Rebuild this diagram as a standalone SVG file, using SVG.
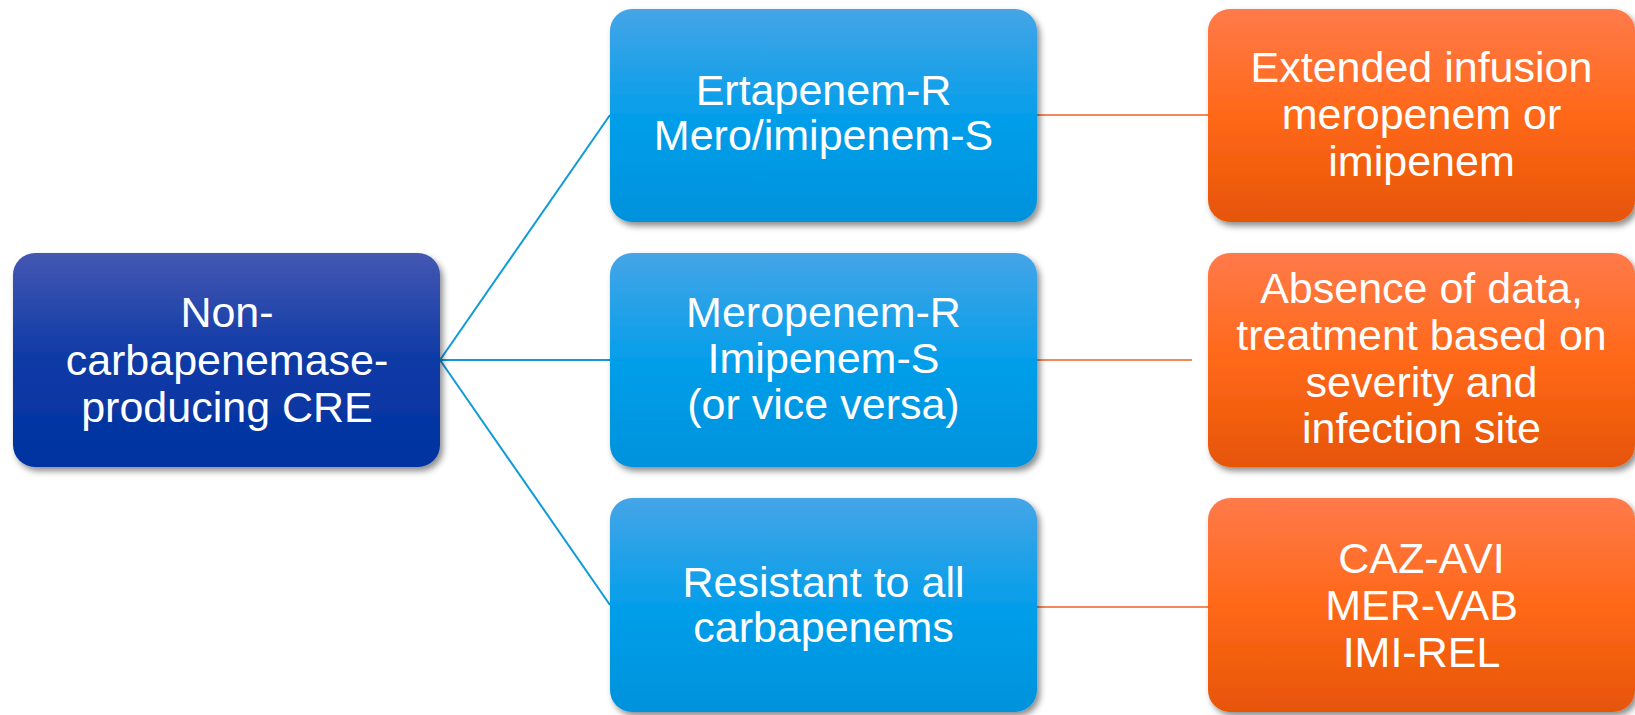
<svg xmlns="http://www.w3.org/2000/svg" width="1635" height="715" viewBox="0 0 1635 715">
<defs>
<linearGradient id="gDark" x1="0" y1="0" x2="0" y2="1">
<stop offset="0" stop-color="#4457B2"/>
<stop offset="0.5" stop-color="#0D3AA6"/>
<stop offset="1" stop-color="#0033A0"/>
</linearGradient>
<linearGradient id="gBlue" x1="0" y1="0" x2="0" y2="1">
<stop offset="0" stop-color="#45A5E7"/>
<stop offset="0.5" stop-color="#059EEA"/>
<stop offset="1" stop-color="#0092DC"/>
</linearGradient>
<linearGradient id="gOrange" x1="0" y1="0" x2="0" y2="1">
<stop offset="0" stop-color="#FF7A4A"/>
<stop offset="0.5" stop-color="#FF6818"/>
<stop offset="1" stop-color="#E65506"/>
</linearGradient>
<filter id="sh" x="-10%" y="-10%" width="125%" height="130%">
<feDropShadow dx="3" dy="4" stdDeviation="3" flood-color="#000" flood-opacity="0.45"/>
</filter>
</defs>
<style>
.box{filter:url(#sh);}
.t{font-family:"Liberation Sans",Arial,sans-serif;font-size:43px;fill:#FFFFFF;text-anchor:middle;}
.cb{stroke:#0F9AD8;stroke-width:2;fill:none;}
.co{stroke:#F4885C;stroke-width:2;fill:none;}
</style>
<g id="connectors">
<line class="cb" x1="440" y1="360" x2="610" y2="115"/>
<line class="cb" x1="440" y1="360" x2="610" y2="360"/>
<line class="cb" x1="440" y1="360" x2="610" y2="605"/>
<line class="co" x1="1037" y1="115" x2="1208" y2="115"/>
<line class="co" x1="1037" y1="360" x2="1192" y2="360"/>
<line class="co" x1="1037" y1="607" x2="1208" y2="607"/>
</g>
<g id="root">
<rect class="box" x="13" y="253" width="427" height="214" rx="22" fill="url(#gDark)"/>
<text class="t"><tspan x="227" y="327">Non-</tspan><tspan x="227" y="375">carbapenemase-</tspan><tspan x="227" y="422">producing CRE</tspan></text>
</g>
<g id="ertapenem">
<rect class="box" x="610" y="9" width="427" height="213" rx="22" fill="url(#gBlue)"/>
<text class="t"><tspan x="823.5" y="105">Ertapenem-R</tspan><tspan x="823.5" y="150">Mero/imipenem-S</tspan></text>
</g>
<g id="meropenem">
<rect class="box" x="610" y="253" width="427" height="214" rx="22" fill="url(#gBlue)"/>
<text class="t"><tspan x="823.5" y="327">Meropenem-R</tspan><tspan x="823.5" y="373">Imipenem-S</tspan><tspan x="823.5" y="419">(or vice versa)</tspan></text>
</g>
<g id="resistant">
<rect class="box" x="610" y="498" width="427" height="214" rx="22" fill="url(#gBlue)"/>
<text class="t"><tspan x="823.5" y="597">Resistant to all</tspan><tspan x="823.5" y="642">carbapenems</tspan></text>
</g>
<g id="extended">
<rect class="box" x="1208" y="9" width="427" height="213" rx="22" fill="url(#gOrange)"/>
<text class="t"><tspan x="1421.5" y="82">Extended infusion</tspan><tspan x="1421.5" y="129">meropenem or</tspan><tspan x="1421.5" y="176">imipenem</tspan></text>
</g>
<g id="absence">
<rect class="box" x="1208" y="253" width="427" height="214" rx="22" fill="url(#gOrange)"/>
<text class="t"><tspan x="1421.5" y="303">Absence of data,</tspan><tspan x="1421.5" y="350">treatment based on</tspan><tspan x="1421.5" y="397">severity and</tspan><tspan x="1421.5" y="443">infection site</tspan></text>
</g>
<g id="cazavi">
<rect class="box" x="1208" y="498" width="427" height="214" rx="22" fill="url(#gOrange)"/>
<text class="t"><tspan x="1421.5" y="573">CAZ-AVI</tspan><tspan x="1421.5" y="620">MER-VAB</tspan><tspan x="1421.5" y="667">IMI-REL</tspan></text>
</g>
</svg>
